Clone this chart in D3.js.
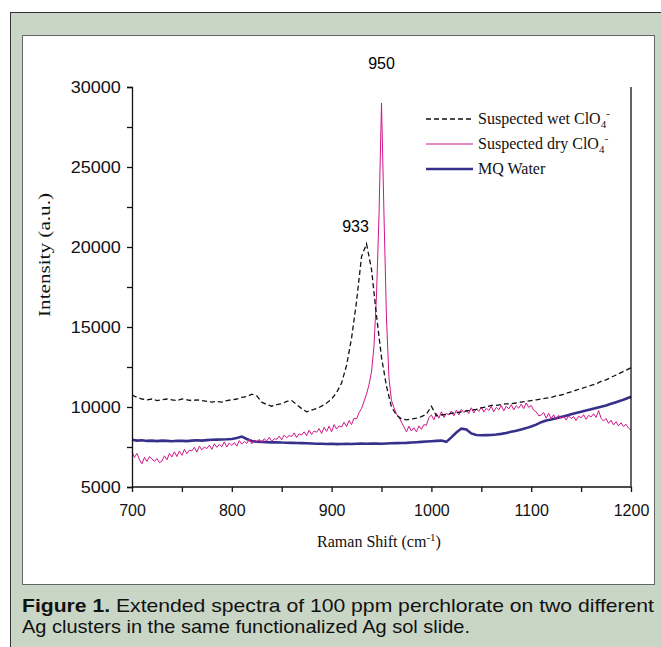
<!DOCTYPE html>
<html>
<head>
<meta charset="utf-8">
<style>
  body { margin: 0; padding: 0; background: #fff; }
  svg { display: block; }
  .tick text { font-family: "Liberation Sans", Arial, sans-serif; font-size: 16px; fill: #111; }
  .serif { font-family: "Liberation Serif", "Times New Roman", serif; fill: #111; }
</style>
</head>
<body>
<div id="chart"></div>
<script src="https://d3js.org/d3.v7.min.js"></script>
<script>
// Raman shift grids (cm-1)
var shift5 = d3.range(700, 1200.1, 5);
var shift25 = d3.range(700, 1200.1, 2.5);

// suspected wet ClO4- (dashed), every 5 cm-1
var wet = [10750, 10600, 10500, 10450, 10500, 10400, 10450, 10500, 10450, 10400,
  10500, 10450, 10400, 10450, 10400, 10350, 10300, 10350, 10300, 10400,
  10450, 10500, 10600, 10650, 10800, 10700, 10300, 10150, 10050, 10150,
  10200, 10350, 10400, 10150, 9900, 9700, 9800, 9900, 10050, 10250,
  10500, 10900, 11500, 12600, 14300, 16600, 19400, 20200, 18600, 15700,
  13100, 11300, 10000, 9500, 9250, 9200, 9250, 9300, 9400, 9550,
  10050, 9450, 9500, 9550, 9600, 9650, 9700, 9750, 9800, 9850,
  9950, 10000, 10100, 10100, 10150, 10200, 10200, 10250, 10300, 10350,
  10400, 10450, 10500, 10550, 10600, 10700, 10750, 10850, 10950, 11050,
  11150, 11250, 11350, 11450, 11600, 11700, 11850, 12000, 12150, 12300,
  12450];

// suspected dry ClO4- (pink), every 2.5 cm-1
var dry = [7200, 6850, 7100, 6700, 6450, 6850, 6600, 6900, 6750, 6600,
  6780, 6520, 6620, 6950, 6700, 7100, 6880, 7200, 6900, 7250,
  6980, 7350, 7080, 7300, 7250, 7480, 7180, 7550, 7320, 7500,
  7400, 7620, 7350, 7700, 7480, 7660, 7520, 7820, 7500, 7750,
  7600, 7780, 7550, 7900, 7680, 7850, 7720, 8000, 7700, 7930,
  7820, 7980, 7760, 8020, 7880, 8100, 7850, 8020, 7980, 8180,
  7950, 8250, 8080, 8220, 8150, 8380, 8100, 8320, 8250, 8450,
  8200, 8550, 8280, 8500, 8420, 8650, 8350, 8720, 8480, 8800,
  8450, 8900, 8620, 8820, 8750, 9050, 8780, 9150, 8900, 9300,
  9250, 9650, 9900, 10350, 10800, 11400, 12200, 13800, 17000, 22000,
  29000, 22000, 15500, 11800, 10400, 9950, 9550, 9350, 9050, 8750,
  8450, 8800, 8500, 8700, 8450, 8820, 8600, 8900, 8850, 9350,
  9500, 9200, 9600, 9300, 9700, 9350, 9600, 9500, 9750, 9450,
  9800, 9500, 9850, 9650, 9800, 9600, 9950, 9620, 9880, 9720,
  10000, 9680, 9920, 9780, 10050, 9700, 9980, 9820, 10100, 9760,
  10050, 9880, 10150, 9820, 10080, 9930, 10180, 9900, 10250, 9980,
  10100, 9800, 9700, 9450, 9500, 9650, 9300, 9600, 9280, 9520,
  9220, 9480, 9300, 9420, 9180, 9450, 9280, 9400, 9150, 9430,
  9320, 9520, 9230, 9480, 9380, 9580, 9350, 9780, 9300, 9120,
  9280, 8980, 9180, 8880, 9080, 8820, 9020, 8780, 8920, 8680,
  8550];

// MQ water (navy), every 5 cm-1
var water = [7950, 7900, 7920, 7880, 7900, 7870, 7900, 7880, 7860, 7890,
  7880, 7870, 7900, 7920, 7900, 7930, 7950, 7960, 7970, 7980,
  8000, 8060, 8150, 8000, 7880, 7830, 7820, 7800, 7790, 7800,
  7780, 7770, 7760, 7750, 7740, 7730, 7720, 7700, 7700, 7690,
  7700, 7680, 7690, 7700, 7690, 7700, 7710, 7700, 7720, 7710,
  7700, 7720, 7730, 7740, 7750, 7760, 7780, 7800, 7820, 7840,
  7860, 7880, 7900, 7820, 8100, 8400, 8650, 8600, 8350, 8250,
  8230, 8240, 8250, 8280, 8320, 8380, 8450, 8520, 8600, 8680,
  8780, 8900, 9050, 9150, 9220, 9300, 9380, 9460, 9540, 9620,
  9700, 9780, 9860, 9940, 10020, 10100, 10200, 10300, 10400, 10520,
  10640];

var peakShift = [950, 933];
var peakValue = [29000, 20300];

var W = 661, H = 647;
var svg = d3.select("#chart").append("svg").attr("width", W).attr("height", H);

// figure frame
svg.append("rect").attr("x", 10.5).attr("y", 12.5).attr("width", 660).attr("height", 650)
  .attr("fill", "#cad6c5").attr("stroke", "#333").attr("stroke-width", 1);
svg.append("rect").attr("x", 22.5).attr("y", 35.5).attr("width", 632).attr("height", 549)
  .attr("fill", "#fff").attr("stroke", "#666").attr("stroke-width", 1);

var x = d3.scaleLinear().domain([700, 1200]).range([132, 631]);
var y = d3.scaleLinear().domain([5000, 30000]).range([487, 87]);

var line = d3.line().x(function(d) { return x(d[0]); }).y(function(d) { return y(d[1]); });

var g = svg.append("g");

g.append("path").datum(d3.zip(shift5, water))
  .attr("d", line).attr("fill", "none").attr("stroke", "#36308a").attr("stroke-width", 2.6);
g.append("path").datum(d3.zip(shift25, dry))
  .attr("d", line).attr("fill", "none").attr("stroke", "#d0158a").attr("stroke-width", 1);
g.append("path").datum(d3.zip(shift5, wet))
  .attr("d", line).attr("fill", "none").attr("stroke", "#111").attr("stroke-width", 1.3)
  .attr("stroke-dasharray", "5,3");

// axes
var xAxis = d3.axisBottom(x).tickValues(d3.range(700, 1201, 50)).tickSize(5)
  .tickFormat(function(d) { return d % 100 === 0 ? d : ""; });
var gx = svg.append("g").attr("transform", "translate(0,487)").call(xAxis);
gx.select(".domain").attr("d", "M132,0H631");
gx.selectAll("text").attr("dy", "1.3em");

var yAxis = d3.axisLeft(y).tickValues(d3.range(5000, 30001, 2500)).tickSize(5)
  .tickFormat(function(d) { return d % 5000 === 0 ? d : ""; });
var gy = svg.append("g").attr("transform", "translate(132,0)").call(yAxis);
gy.selectAll("text").attr("dx", "-0.2em").attr("textLength", function() {
  return this.textContent.length === 5 ? 50 : 40;
}).attr("lengthAdjust", "spacingAndGlyphs");

svg.selectAll(".domain, .tick line").attr("stroke", "#111").attr("stroke-width", 1.3);

svg.append("line").attr("x1", 631).attr("x2", 631).attr("y1", 87).attr("y2", 487)
  .attr("stroke", "#111").attr("stroke-width", 1.3);

// peak labels
var labelLift = [34, 10];
svg.selectAll(".peak").data(peakShift).enter().append("text")
  .attr("class", "peak")
  .attr("x", function(d, i) { return x(d) - (i === 1 ? 9 : 0); })
  .attr("y", function(d, i) { return y(peakValue[i]) - labelLift[i]; })
  .attr("text-anchor", "middle")
  .style("font-family", "Liberation Sans, Arial, sans-serif").style("font-size", "16px")
  .text(function(d) { return d; });

// axis titles
svg.append("text").attr("class", "serif").attr("x", 379).attr("y", 547)
  .attr("text-anchor", "middle").style("font-size", "16px")
  .html('Raman Shift (cm<tspan dy="-6" font-size="11">-1</tspan><tspan dy="6">)</tspan>');
svg.append("text").attr("class", "serif")
  .attr("transform", "translate(50,255) rotate(-90)")
  .attr("text-anchor", "middle").style("font-size", "17px")
  .attr("textLength", 124).attr("lengthAdjust", "spacingAndGlyphs")
  .text("Intensity (a.u.)");

// legend
var legendNames = ["Suspected wet ClO", "Suspected dry ClO", "MQ Water"];
var legendColors = ["#111", "#d0158a", "#36308a"];
var legendWidths = [1.3, 1, 2.6];
var lg = svg.append("g");
legendNames.forEach(function(name, i) {
  var ly = 119 + i * 25;
  lg.append("line").attr("x1", 426).attr("x2", 473).attr("y1", ly).attr("y2", ly)
    .attr("stroke", legendColors[i]).attr("stroke-width", legendWidths[i])
    .attr("stroke-dasharray", i === 0 ? "5,3" : null);
  var t = lg.append("text").attr("class", "serif").attr("x", 478).attr("y", ly + 5)
    .style("font-size", "16px").text(name);
  if (i < 2) {
    t.append("tspan").attr("dy", 4).attr("font-size", "11px").text("4");
    t.append("tspan").attr("dy", -11).attr("font-size", "11px").text("-");
  }
});

// caption
var capFont = "Liberation Sans, Arial, sans-serif";
var caption = svg.append("text").attr("x", 22).attr("y", 612)
  .attr("textLength", 632).attr("lengthAdjust", "spacingAndGlyphs")
  .style("font-family", capFont).style("font-size", "19px").style("fill", "#111");
caption.append("tspan").attr("font-weight", "bold").text("Figure 1.");
caption.append("tspan").text(" Extended spectra of 100 ppm perchlorate on two different");
svg.append("text").attr("x", 22).attr("y", 633)
  .attr("textLength", 448).attr("lengthAdjust", "spacingAndGlyphs")
  .style("font-family", capFont).style("font-size", "19px").style("fill", "#111")
  .text("Ag clusters in the same functionalized Ag sol slide.");
</script>
</body>
</html>
